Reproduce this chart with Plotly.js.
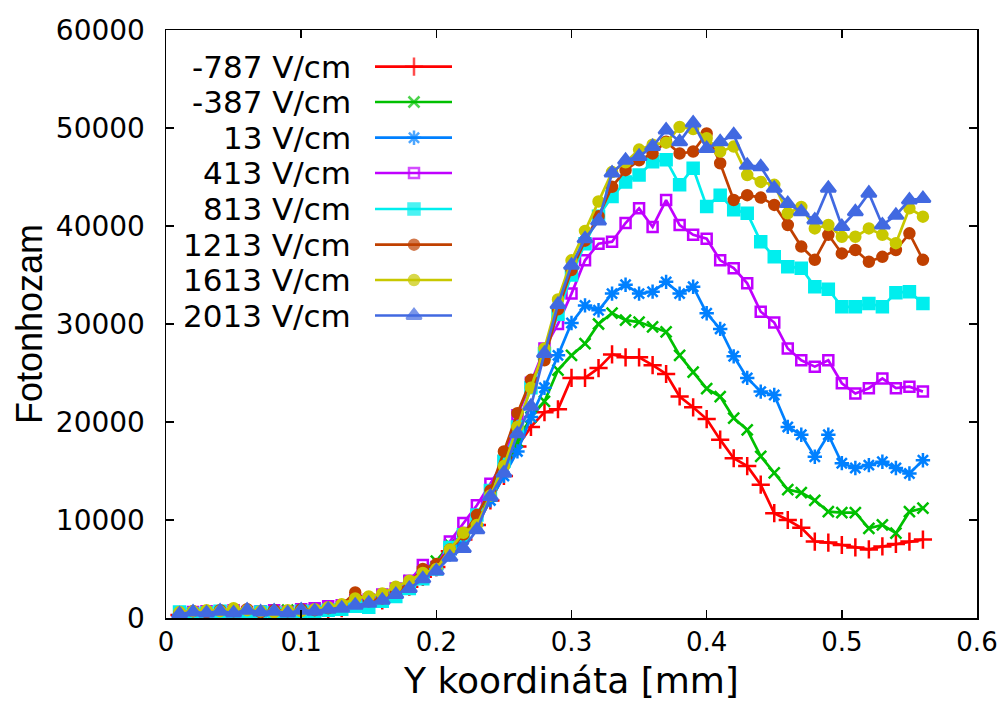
<!DOCTYPE html>
<html>
<head>
<meta charset="utf-8">
<script src="https://cdn.plot.ly/plotly-3.0.1.min.js"></script>
<style>html,body{margin:0;padding:0;background:#fff;}#chart{width:1008px;height:715px;}</style>
</head>
<body>
<div id="chart"></div>
<script>
// X positions (mm): 0.01 .. 0.56
const xPositions = [0.01,0.02,0.03,0.04,0.05,0.06,0.07,0.08,0.09,0.10,0.11,0.12,0.13,0.14,0.15,0.16,0.17,0.18,0.19,0.20,
  0.21,0.22,0.23,0.24,0.25,0.26,0.27,0.28,0.29,0.30,0.31,0.32,0.33,0.34,0.35,0.36,0.37,0.38,0.39,0.40,
  0.41,0.42,0.43,0.44,0.45,0.46,0.47,0.48,0.49,0.50,0.51,0.52,0.53,0.54,0.55,0.56];

const seriesNames = ["-787 V/cm","-387 V/cm","13 V/cm","413 V/cm","813 V/cm","1213 V/cm","1613 V/cm","2013 V/cm"];

const vMinus787 = [300,200,400,300,500,300,400,300,200,500,600,800,1000,1500,1400,1800,2500,3200,4200,5200,
  6800,8000,9500,12000,14500,17500,19500,21000,21300,24500,24500,25500,26900,26600,26600,25800,24900,22600,21500,20300,
  18200,16300,15500,13600,10700,10000,9200,7800,7700,7450,7200,7000,7300,7550,7800,8000];
const vMinus387 = [400,500,600,500,700,500,600,700,800,700,900,1000,1200,1800,1600,2200,2800,3800,4800,5800,
  7500,8500,10000,12500,15000,18000,20500,22100,25300,26800,28000,30000,31100,30400,30200,29700,29200,26800,25100,23400,
  22600,20400,19200,16500,14800,13100,12800,12000,10850,10750,10750,9150,9500,8650,10850,11200];
const v13 = [300,400,300,500,400,600,400,500,600,800,700,900,1100,1500,1700,2000,2500,3300,4200,5000,
  6500,8000,9500,12000,14500,17000,20500,23500,26800,30100,31900,31400,33100,34000,33100,33300,34300,33100,33800,31100,
  29500,26700,24500,23100,22750,19500,18700,16450,18700,15800,15300,15600,15950,15300,14750,16100];
const v413 = [500,600,700,600,800,600,700,800,600,900,1000,1200,1300,1800,1900,2400,3000,3800,5400,5200,
  7800,9700,11500,13700,16000,20700,24000,27500,30000,33100,36500,38200,38400,40300,41800,39900,42650,40100,39100,38700,
  36500,35700,34150,31250,30150,27500,26300,25650,26300,23950,22900,23450,24450,23450,23600,23100];
const v813 = [600,400,500,700,300,200,600,500,400,700,600,800,900,1200,1100,1700,2200,3000,4000,5000,
  7200,8500,10500,13000,16000,19500,23500,27000,31000,35000,38200,41000,43000,44500,45200,46550,46750,44200,45900,42000,
  43150,41650,41300,38400,36850,35850,35700,33800,33550,31750,31750,32100,31750,33200,33300,32100];
const v1213 = [500,700,600,800,700,900,600,800,700,900,800,1000,1300,2600,1700,2000,2600,3600,5000,5500,
  7000,8500,10500,13000,17000,20900,24300,26300,31500,35500,38500,41000,44000,45700,46700,47400,48600,47400,47600,49450,
  46400,42650,43150,42900,42150,40100,37900,36550,39100,37200,37550,36350,36850,37550,39250,36550];
const v1613 = [600,700,800,700,1000,800,700,600,800,700,900,1100,1400,2000,2200,2500,3200,3800,4600,5000,
  7000,8700,9500,12500,15500,19500,23500,27500,32500,36500,39500,42500,45500,46500,47800,48300,48500,50100,49900,48950,
  47600,48100,45200,44500,44200,41300,41950,39750,40100,38900,38900,39750,39100,38250,41800,40950];
const v2013 = [400,600,500,700,500,800,600,700,500,800,700,900,1000,1300,1500,1800,2400,3000,4000,4800,
  6200,7100,9000,12400,14800,18800,21600,27000,32000,36000,38700,40500,45400,46700,47100,48100,49800,48600,50500,47900,
  48600,49300,46200,46050,43850,42300,41450,40600,43850,39950,41450,43350,40100,41100,42650,42800];

const xTicks = [0,0.1,0.2,0.3,0.4,0.5,0.6];
const xTickLabels = ["0","0.1","0.2","0.3","0.4","0.5","0.6"];
const yTicks = [0,10000,20000,30000,40000,50000,60000];
const yTickLabels = ["0","10000","20000","30000","40000","50000","60000"];

const allValues = [vMinus787,vMinus387,v13,v413,v813,v1213,v1613,v2013];
const colors = ["#ff0000","#00c000","#0080ff","#c000ff","#00eeee","#c04000","#c8c800","#4169e1"];
const symbols = ["cross-thin-open","x-thin-open","asterisk-open","square-open","square","circle","circle","triangle-up"];
const sizes = [13,11,12,10,11,10,10,13];

const traces = [];
allValues.forEach((vals,i)=>{
  traces.push({
    type:'scatter', mode:'lines+markers', name:seriesNames[i],
    x:xPositions, y:vals, xaxis:'x', yaxis:'y',
    line:{color:colors[i], width:2.7},
    marker:{symbol:symbols[i], size:sizes[i], color:colors[i], line:{color:colors[i], width:2.5}},
    showlegend:false, hoverinfo:'skip'
  });
});

// Custom gnuplot-style key: text on the left, sample on the right (pixel-mapped overlay axes)
const keyRowY = [66.7,102,137.7,173,209,244.7,280,315.5];
const annotations = [];
seriesNames.forEach((nm,i)=>{
  traces.push({
    type:'scatter', mode:'lines+markers', xaxis:'x2', yaxis:'y2',
    x:[375,414,452], y:[keyRowY[i],keyRowY[i],keyRowY[i]],
    line:{color:colors[i], width:2.7},
    marker:{symbol:symbols[i], size:[0,sizes[i],0], color:colors[i], line:{color:colors[i], width:2.5}},
    showlegend:false, hoverinfo:'skip'
  });
  annotations.push({
    xref:'x2', yref:'y2', x:353, y:keyRowY[i], text:nm, showarrow:false,
    xanchor:'right', yanchor:'middle',
    font:{family:'DejaVu Sans', size:31, color:'#000'}
  });
});

const layout = {
  width:1008, height:715,
  margin:{l:166, r:31, t:30, b:97},
  paper_bgcolor:'#fff', plot_bgcolor:'#fff',
  showlegend:false,
  xaxis:{
    range:[0,0.6], tickvals:xTicks, ticktext:xTickLabels,
    ticks:'inside', ticklen:8, tickwidth:1.5, tickcolor:'#000',
    showline:true, linecolor:'#000', linewidth:1.5, mirror:'ticks',
    showgrid:false, zeroline:false,
    tickfont:{family:'DejaVu Sans', size:26, color:'#000'},
    title:{text:'Y koordináta [mm]', font:{family:'DejaVu Sans', size:36, color:'#000'}, standoff:12}
  },
  yaxis:{
    range:[0,60000], tickvals:yTicks, ticktext:yTickLabels,
    ticks:'inside', ticklen:8, tickwidth:1.5, tickcolor:'#000',
    showline:true, linecolor:'#000', linewidth:1.5, mirror:'ticks',
    showgrid:false, zeroline:false, ticklabelstandoff:14,
    tickfont:{family:'DejaVu Sans', size:28, color:'#000'},
    title:{text:'Fotonhozam', font:{family:'Liberation Sans', size:36, color:'#000'}, standoff:2}
  },
  xaxis2:{overlaying:'x', anchor:'y2', range:[166,977], visible:false, fixedrange:true},
  yaxis2:{overlaying:'y', anchor:'x2', range:[618,30], visible:false, fixedrange:true},
  annotations:annotations
};

Plotly.newPlot('chart', traces, layout, {displayModeBar:false, staticPlot:true});
</script>
</body>
</html>
